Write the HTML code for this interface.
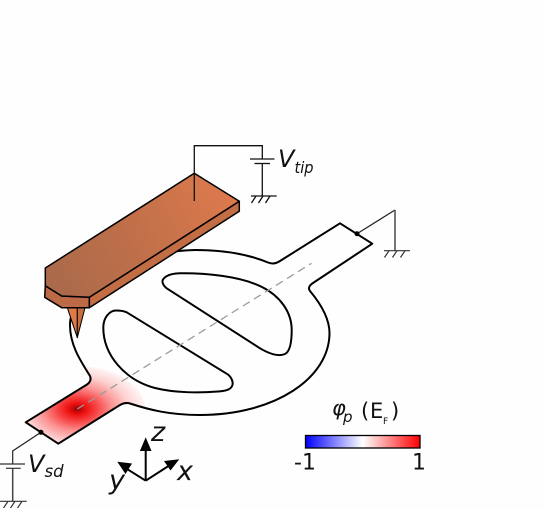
<!DOCTYPE html>
<html lang="en">
<head>
<meta charset="utf-8">
<title>Scanning gate microscopy schematic</title>
<style>
html,body{margin:0;padding:0;background:#fefefe;}
svg{display:block;}
text{font-family:"DejaVu Sans","Liberation Sans",sans-serif;fill:#111;}
.it{font-style:italic;}
</style>
</head>
<body>
<svg width="546" height="508" viewBox="0 0 546 508" xmlns="http://www.w3.org/2000/svg">
  <defs>
    <radialGradient id="potential" gradientUnits="userSpaceOnUse" cx="0" cy="0" r="1" gradientTransform="translate(77 409) scale(68 43)">
      <stop offset="0" stop-color="#8c0000"/>
      <stop offset="0.05" stop-color="#b80a0a"/>
      <stop offset="0.13" stop-color="#ee1010"/>
      <stop offset="0.3" stop-color="#f74848"/>
      <stop offset="0.5" stop-color="#fb9090"/>
      <stop offset="0.75" stop-color="#fdd0d0"/>
      <stop offset="1" stop-color="#fff4f4"/>
      <stop offset="1" stop-color="#fefefe" stop-opacity="0"/>
    </radialGradient>
    <linearGradient id="cant-top" gradientUnits="userSpaceOnUse" x1="60" y1="290" x2="235" y2="200">
      <stop offset="0" stop-color="#ab6a4a"/>
      <stop offset="0.5" stop-color="#c2704a"/>
      <stop offset="1" stop-color="#dd7a4d"/>
    </linearGradient>
    <linearGradient id="cbar-gradient" gradientUnits="userSpaceOnUse" x1="305.5" y1="0" x2="420" y2="0">
      <stop offset="0" stop-color="#0000ff"/>
      <stop offset="0.5" stop-color="#ffffff"/>
      <stop offset="1" stop-color="#ff0000"/>
    </linearGradient>
    <clipPath id="outer-clip">
      <path d="M340,223.3 L372.3,243.7 L313,283 Q307,287 310,291 C320,303 329.5,318 329.5,333 C329.5,378 275,415 200,415 C170,415 150,410 130,403.5 Q125,402 120,405 L58.3,443.7 L25.7,422.3 L87,384.5 Q92,381 90,376 C80,360 70,345 70,325 C70,290 130,251 195,250 C225,250 250,255 268,262.5 Q274,265 280,261 Z"/>
    </clipPath>
  </defs>

  <rect x="0" y="0" width="546" height="508" fill="#fefefe"/>

  <g clip-path="url(#outer-clip)">
    <ellipse cx="77" cy="409" rx="68" ry="43" fill="url(#potential)"/>
  </g>

  <path fill="none" stroke="#000" stroke-width="2" stroke-linejoin="round"
    d="M340,223.3 L372.3,243.7 L313,283 Q307,287 310,291 C320,303 329.5,318 329.5,333 C329.5,378 275,415 200,415 C170,415 150,410 130,403.5 Q125,402 120,405 L58.3,443.7 L25.7,422.3 L87,384.5 Q92,381 90,376 C80,360 70,345 70,325 C70,290 130,251 195,250 C225,250 250,255 268,262.5 Q274,265 280,261 Z"/>
  <path fill="#fefefe" stroke="#000" stroke-width="2"
    d="M166.7,288.3 L260,348.3 C268,353 278,357 285,354 C291,351 291.7,338 291.7,330 C291.7,312 280,296 262,287 C240,276 205,273 180,273.3 C168,273.5 162,278 162.5,282 C163,285 165,287 166.7,288.3 Z"/>
  <path fill="#fefefe" stroke="#000" stroke-width="2"
    d="M126.7,312.3 L228,374.5 C232,378 233,382 232.5,385 C231,390 225,391 218,391.5 C200,393 175,393 155,388 C125,380 103,355 103.3,327 C103.5,317 110,310.5 116,310.5 C120,310.5 124,311 126.7,312.3 Z"/>
  <line x1="77.3" y1="409" x2="311.5" y2="263.3" stroke="#9c9c9c" stroke-width="1.3" stroke-dasharray="8 5"/>

  <g stroke="#000" stroke-width="1" stroke-linejoin="round">
    <path d="M67.3,307.7 L77.3,337.7 L77.3,307.7 Z" fill="#dd7a45"/>
    <path d="M85,307.7 L77.3,337.7 L77.3,307.7 Z" fill="#c66f40"/>
  </g>
  <g stroke="#000" stroke-width="1.5" stroke-linejoin="round">
    <path d="M239.3,201.3 L239.3,211.3 L89.3,307.7 L89.3,297.3 Z" fill="#c36d45"/>
    <path d="M45.3,285.7 L44.7,297.3 L61.7,307.7 L89.3,307.7 L89.3,297.3 L61.7,296 Z" fill="#bd6b47"/>
    <path d="M194.3,173.3 L239.3,201.3 L89.3,297.3 L61.7,296 L45.3,285.7 L45.3,268 Z" fill="url(#cant-top)"/>
  </g>

  <g fill="none" stroke="#111" stroke-width="1.3">
    <path d="M194.3,201 V145.7 H262.3 V159"/>
    <line x1="250" y1="159" x2="274.5" y2="159"/>
    <line x1="254.5" y1="163.5" x2="270" y2="163.5"/>
    <path d="M262.3,163.5 V196"/>
    <path d="M251,196 H276.7 M256,196 L251.5,203 M263,196 L258.5,203 M270,196 L265.5,203"/>
  </g>

  <g fill="none" stroke="#222" stroke-width="1.2">
    <path d="M357,233.7 L395,210"/>
    <path d="M395,210 V250.7" stroke="#555" stroke-width="1.6"/>
    <path d="M384,250.7 H410 M389,250.7 L384.5,257.5 M397,250.7 L392.5,257.5 M405,250.7 L400.5,257.5" stroke="#333"/>
  </g>
  <circle cx="357" cy="233.7" r="2.5" fill="#000"/>

  <g fill="none" stroke="#222" stroke-width="1.2">
    <path d="M41,432.3 L12.7,451 V464"/>
    <line x1="0" y1="464" x2="25" y2="464" stroke="#333"/>
    <line x1="6" y1="468.3" x2="20.7" y2="468.3" stroke="#333"/>
    <path d="M12.7,468.3 V501.3" stroke="#444" stroke-width="1.5"/>
    <path d="M0,501.3 H26.7 M8,501.3 L3.5,508 M15,501.3 L10.5,508 M22,501.3 L17.5,508" stroke="#333"/>
  </g>
  <circle cx="41" cy="432.3" r="2.5" fill="#000"/>

  <g>
    <text class="it" x="278" y="167" font-size="24">V</text>
    <text class="it" x="294.5" y="173" font-size="16" textLength="19" lengthAdjust="spacingAndGlyphs">tip</text>
  </g>
  <g>
    <text class="it" x="28" y="472" font-size="24">V</text>
    <text class="it" x="44.5" y="477" font-size="16.5">sd</text>
  </g>

  <g>
    <path d="M145.7,450 V480.7 M145.7,480.7 L170,465 M145.7,480.7 L127,469" fill="none" stroke="#000" stroke-width="2"/>
    <path d="M145.7,437.3 L151.5,451 L139.9,451 Z" fill="#000"/>
    <path d="M179.3,459.3 L170.5,470.5 L164,461 Z" fill="#000"/>
    <path d="M117.3,461.7 L132,463.5 L125.5,474 Z" fill="#000"/>
    <text class="it" x="151" y="441" font-size="27">z</text>
    <text class="it" x="177" y="480" font-size="27">x</text>
    <text class="it" x="109" y="489" font-size="27">y</text>
  </g>

  <g>
    <text class="it" x="332" y="415" font-size="21">φ</text>
    <text class="it" x="343" y="422" font-size="15">p</text>
    <text x="361" y="418" font-size="21">(</text>
    <text x="370" y="418" font-size="21">E</text>
    <text x="383" y="424" font-size="9">F</text>
    <text x="391" y="418" font-size="21">)</text>
    <rect x="305.5" y="435.5" width="114.5" height="12.5" fill="url(#cbar-gradient)" stroke="#000" stroke-width="1.3"/>
    <text x="294" y="469.5" font-size="22">-1</text>
    <text x="412" y="469.5" font-size="22">1</text>
  </g>
</svg>
</body>
</html>
